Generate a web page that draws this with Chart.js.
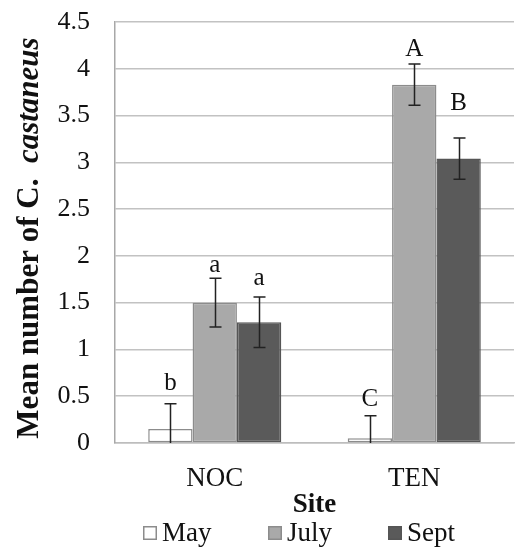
<!DOCTYPE html>
<html>
<head>
<meta charset="utf-8">
<script src="https://cdn.jsdelivr.net/npm/chart.js@4"></script>
<style>
  html, body { margin: 0; padding: 0; background: #fff; }
  #wrap { width: 516px; height: 548px; }
</style>
</head>
<body>
<div id="wrap"><canvas id="chart" width="516" height="548"></canvas></div>
<script>
// Mean number of C. castaneus by site and month.

const sites = ['NOC', 'TEN'];
const months = ['May', 'July', 'Sept'];

const mayMeans  = [0.15, 0.05];
const julyMeans = [1.50, 3.83];
const septMeans = [1.29, 3.04];

const mayErr  = [0.27, 0.24];
const julyErr = [0.26, 0.22];
const septErr = [0.27, 0.22];

const mayLetters  = ['b', 'C'];
const julyLetters = ['a', 'A'];
const septLetters = ['a', 'B'];

const yTicks = [0, 0.5, 1, 1.5, 2, 2.5, 3, 3.5, 4, 4.5];

const SERIF = '"Liberation Serif", "Times New Roman", serif';
const INK = '#111';

// Error bars + significance letters on top of the bars.
const errorBars = {
  id: 'errorBars',
  afterDatasetsDraw(chart, args, opts) {
    const { ctx, scales: { y } } = chart;
    ctx.save();
    chart.data.datasets.forEach((ds, di) => {
      const meta = chart.getDatasetMeta(di);
      meta.data.forEach((bar, i) => {
        const mean = ds.data[i], err = ds.errors[i];
        const top = y.getPixelForValue(mean + err);
        const lowVal = mean - err;
        const bot = y.getPixelForValue(Math.max(0, lowVal));
        const x = Math.round(bar.x) + 0.5;
        ctx.strokeStyle = '#222';
        ctx.lineWidth = 1.5;
        ctx.beginPath();
        ctx.moveTo(x, top); ctx.lineTo(x, bot);
        ctx.moveTo(x - 6, top); ctx.lineTo(x + 6, top);
        if (lowVal > 0) { ctx.moveTo(x - 6, bot); ctx.lineTo(x + 6, bot); }
        ctx.stroke();

        const lift = opts.lift[ds.label][i];
        ctx.fillStyle = INK;
        ctx.font = '25px ' + SERIF;
        ctx.textAlign = 'center';
        ctx.textBaseline = 'middle';
        ctx.fillText(ds.letters[i], bar.x, top - lift);
      });
    });
    ctx.restore();
  },
};

// Rotated y title with the italic species name, and the bottom legend.
const decorations = {
  id: 'decorations',
  afterDraw(chart) {
    const { ctx } = chart;
    ctx.save();
    // y title
    const parts = [
      ['bold 31px ' + SERIF, 'Mean number of C.  '],
      ['italic bold 31px ' + SERIF, 'castaneus'],
    ];
    let total = 0;
    parts.forEach(([f, t]) => { ctx.font = f; total += ctx.measureText(t).width; });
    ctx.translate(30, 238);
    ctx.rotate(-Math.PI / 2);
    ctx.fillStyle = INK;
    ctx.textBaseline = 'middle';
    ctx.textAlign = 'left';
    let x = -total / 2;
    parts.forEach(([f, t]) => { ctx.font = f; ctx.fillText(t, x, 0); x += ctx.measureText(t).width; });
    ctx.restore();

    // legend
    ctx.save();
    const legendX = [143, 268, 388];
    const ly = 533;
    chart.data.datasets.forEach((ds, i) => {
      const bx = legendX[i];
      ctx.fillStyle = ds.backgroundColor;
      ctx.strokeStyle = ds.borderColor;
      ctx.lineWidth = 1.5;
      ctx.fillRect(bx, ly - 7, 14, 14);
      ctx.strokeRect(bx + 0.75, ly - 6.25, 12.5, 12.5);
      ctx.fillStyle = INK;
      ctx.font = '27px ' + SERIF;
      ctx.textAlign = 'left';
      ctx.textBaseline = 'middle';
      ctx.fillText(ds.label, bx + 19, ly + 1);
    });
    ctx.restore();
  },
};

new Chart(document.getElementById('chart'), {
  type: 'bar',
  data: {
    labels: sites,
    datasets: [
      { label: months[0], data: mayMeans,  errors: mayErr,  letters: mayLetters,
        backgroundColor: '#ffffff', borderColor: '#8c8c8c', borderWidth: 1.5 },
      { label: months[1], data: julyMeans, errors: julyErr, letters: julyLetters,
        backgroundColor: '#a9a9a9', borderColor: '#8c8c8c', borderWidth: 1.5 },
      { label: months[2], data: septMeans, errors: septErr, letters: septLetters,
        backgroundColor: '#5a5a5a', borderColor: '#555555', borderWidth: 1.5 },
    ],
  },
  options: {
    responsive: false,
    animation: false,
    datasets: { bar: { categoryPercentage: 0.667, barPercentage: 1.0, borderSkipped: false } },
    layout: { padding: { left: 0, right: 2, top: 22, bottom: 27 } },
    plugins: {
      legend: { display: false },
      tooltip: { enabled: false },
      errorBars: { lift: { May: [20, 16], July: [13, 15], Sept: [19, 35] } },
    },
    scales: {
      x: {
        grid: { display: false, drawTicks: false },
        border: { color: '#bdbdbd', width: 1.5 },
        ticks: { color: INK, font: { family: SERIF, size: 27 }, padding: 20 },
        title: { display: true, text: 'Site', color: INK,
                 font: { family: SERIF, size: 27, weight: 'bold' }, padding: 0 },
        afterFit(scale) { scale.height = 78; },
      },
      y: {
        min: 0,
        max: 4.5,
        afterBuildTicks(scale) { scale.ticks = yTicks.map(v => ({ value: v })); },
        grid: { color: '#c2c2c2', lineWidth: 1.5, drawTicks: false },
        border: { color: '#a8a8a8', width: 1.5 },
        ticks: { color: INK, font: { family: SERIF, size: 26 }, padding: 25,
                 callback: v => String(v) },
        afterFit(scale) {
          scale.width = 115;
          scale.paddingTop = 0;
          scale.paddingBottom = 0;
        },
      },
    },
  },
  plugins: [errorBars, decorations],
});
</script>
</body>
</html>
